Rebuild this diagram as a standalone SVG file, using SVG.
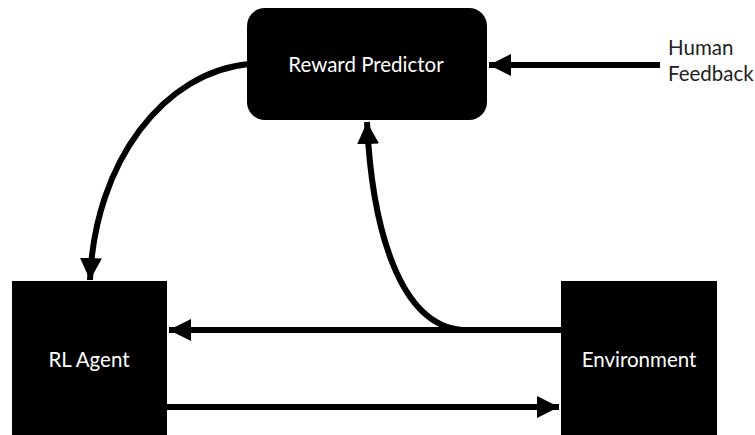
<svg xmlns="http://www.w3.org/2000/svg" width="755" height="435" viewBox="0 0 755 435">
<style>
.box{fill:#000}
.lbl{font-family:Lato,"Liberation Sans",sans-serif;font-size:20.5px;fill:#fff;text-anchor:middle}
.ext{font-family:Lato,"Liberation Sans",sans-serif;font-size:20.5px;fill:#222}
.edge{fill:none;stroke:#000;stroke-width:6}
</style>
<defs>
<marker id="ah" markerUnits="userSpaceOnUse" markerWidth="24" markerHeight="24" viewBox="0 0 24 24" refX="22" refY="12" orient="auto">
<path d="M0,1 L22,12 L0,23 Z" fill="#000"/>
</marker>
</defs>
<rect width="755" height="435" fill="#fff"/>
<g id="reward-predictor">
<rect class="box" x="247" y="8" width="240" height="112" rx="18"/>
<text class="lbl" x="366" y="72">Reward Predictor</text>
</g>
<g id="rl-agent">
<rect class="box" x="12" y="281" width="155" height="154"/>
<text class="lbl" x="89" y="367">RL Agent</text>
</g>
<g id="environment">
<rect class="box" x="561" y="281" width="156" height="154"/>
<text class="lbl" x="639" y="367">Environment</text>
</g>
<g id="human-feedback">
<text class="ext" x="668" y="55">Human</text>
<text class="ext" x="668" y="81">Feedback</text>
</g>
<g id="connectors">
<path class="edge" d="M660,65 L489,65" marker-end="url(#ah)"/>
<path class="edge" d="M249,64 C165,72 95,160 90,280" marker-end="url(#ah)"/>
<path class="edge" d="M561,330 L169,330" marker-end="url(#ah)"/>
<path class="edge" d="M167,407 L559,407" marker-end="url(#ah)"/>
<path class="edge" d="M462,330 C400,325 372,230 367,122" marker-end="url(#ah)"/>
</g>
</svg>
